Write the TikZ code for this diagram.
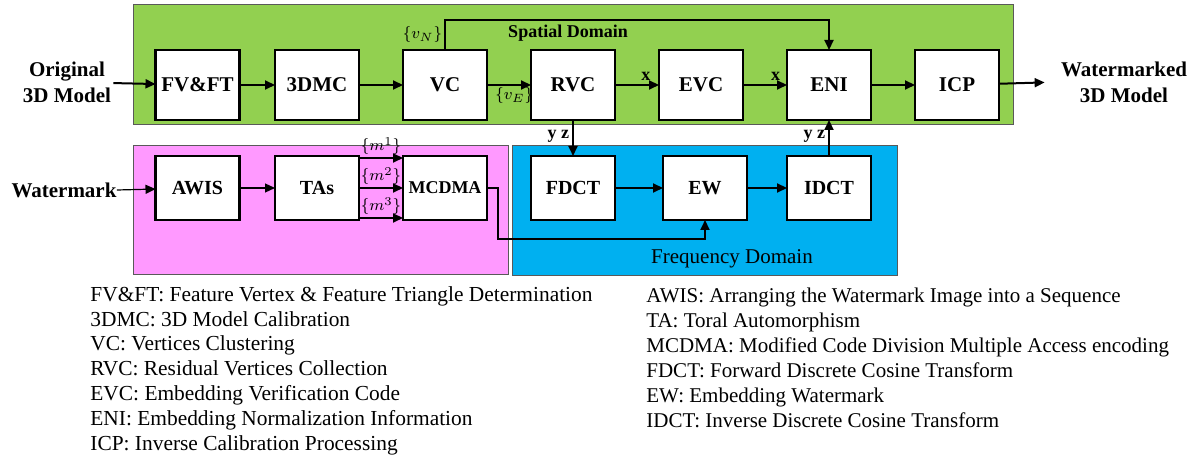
\documentclass[tikz,border=0pt]{standalone}
\usepackage{fontspec}
\setmainfont{Liberation Serif}
\usetikzlibrary{arrows.meta, calc, positioning}
\definecolor{spatialgreen}{HTML}{92D050}
\definecolor{wmpink}{HTML}{FF99FF}
\definecolor{freqblue}{HTML}{00B0F0}

\begin{document}
\begin{tikzpicture}[
        x=0.5pt, y=-0.5pt,
        node distance = 18pt and 22pt,
        >={Triangle[length=5pt,width=4.5pt]},
        base/.style = {draw, fill=white, line width=1.4pt, inner sep=0pt, outer sep=0pt,
                       font=\fontsize{10.5}{12}\selectfont\bfseries, align=center},
        block/.style = {base, minimum width=42pt, minimum height=35pt},
        lowblock/.style = {base, minimum width=42pt, minimum height=32pt,
                       font=\fontsize{10}{12}\selectfont\bfseries},
        zonebox/.style = {draw=black!65, line width=0.5pt},
        flow/.style = {->, line width=1pt},
        thinflow/.style = {->, line width=0.6pt},
        tag/.style = {font=\fontsize{8}{9}\selectfont, inner sep=1pt},
        boldtag/.style = {font=\fontsize{9}{10}\selectfont\bfseries, inner sep=1.5pt},
        io/.style = {font=\fontsize{10.5}{13}\selectfont\bfseries, align=center, inner sep=1pt},
        legend/.style = {anchor=north west, align=left, inner sep=0pt},
        ]
        \useasboundingbox (0,0) rectangle (1198,459);
        % domains
        \filldraw [zonebox, fill=spatialgreen] (133,5) rectangle (1013,125);
        \filldraw [zonebox, fill=wmpink] (133,146) rectangle (508,275);
        \filldraw [zonebox, fill=freqblue] (512,146) rectangle (897,276);
        \node [font=\fontsize{9}{10}\selectfont\bfseries] (sd) at (568,33) {Spatial Domain};
        \node [font=\fontsize{10.5}{12}\selectfont] (fd) at (732,259) {Frequency Domain};

        % spatial chain
        \node [block] (FVFT) at (197.5,85) {FV\&FT};
        \node [block, right=17.75pt of FVFT] (DMC) {3DMC};
        \node [block, right=of DMC] (VC) {VC};
        \node [block, right=of VC] (RVC) {RVC};
        \node [block, right=of RVC] (EVC) {EVC};
        \node [block, right=of EVC] (ENI) {ENI};
        \node [block, right=of ENI] (ICP) {ICP};
        \node [io] (orig) at (67,82) {Original\\3D Model};
        \node [io] (wmk) at (1124,82) {Watermarked\\3D Model};

        % watermark and frequency chain
        \node [lowblock, below=of FVFT] (AWIS) {AWIS};
        \node [lowblock, below=of DMC] (TAs) {TAs};
        \node [lowblock, below=of VC, font=\fontsize{9}{11}\selectfont\bfseries] (MCDMA) {MCDMA};
        \node [lowblock, below=of RVC] (FDCT) {FDCT};
        \node [lowblock, below=of EVC, xshift=2pt] (EW) {EW};
        \node [lowblock, below=of ENI] (IDCT) {IDCT};
        \node [io, inner sep=0pt] (wm) at (64,190) {Watermark};

        \coordinate (vnTop) at (444,20);
        \coordinate (ewIn) at ([yshift=-9.5pt]EW.south);

        \draw [flow] (orig) -- (FVFT);
        \draw [flow] (FVFT) -- (DMC);
        \draw [flow] (DMC) -- (VC);
        \draw [flow] (VC) -- node[pos=0.62, below, tag] {$\{v_E\}$} (RVC);
        \draw [flow] (RVC) -- node[pos=0.7, above, boldtag] {x} (EVC);
        \draw [flow] (EVC) -- node[pos=0.74, above, boldtag] {x} (ENI);
        \draw [flow] (ENI) -- (ICP);
        \draw [flow, shorten >=7pt] (ICP) -- (wmk.west);
        \draw [flow] (VC.north) -- node[left, tag] {$\{v_N\}$} (VC.north |- vnTop) -| (ENI.north);
        \draw [flow] (RVC) -- node[pos=0.45, left, boldtag] {y z} (FDCT);
        \draw [flow] (IDCT) -- node[pos=0.55, left, boldtag] {y z} (ENI);

        \draw [thinflow] (wm.east) -- (AWIS);
        \draw [thinflow] (AWIS) -- (TAs);
        \draw [flow] ([yshift=-1pt]TAs.north east) -- node[above, tag] {$\{m^1\}$} ([yshift=-1pt]MCDMA.north west);
        \draw [flow] (TAs) -- node[above, tag] {$\{m^2\}$} (MCDMA);
        \draw [flow] ([yshift=1pt]TAs.south east) -- node[above, tag] {$\{m^3\}$} ([yshift=1pt]MCDMA.south west);
        \draw [flow] (MCDMA.east) -- ++(11,0) |- (ewIn) -- (EW.south);
        \draw [flow] (FDCT) -- (EW);
        \draw [flow] (EW) -- (IDCT);

        % abbreviations
        \node [legend, font=\fontsize{10.7}{12.4}\selectfont] (keyL) at (90,286) {%
            FV\&FT: Feature Vertex \& Feature Triangle Determination\\
            3DMC: 3D Model Calibration\\
            VC: Vertices Clustering\\
            RVC: Residual Vertices Collection\\
            EVC: Embedding Verification Code\\
            ENI: Embedding Normalization Information\\
            ICP: Inverse Calibration Processing};
        \node [legend, font=\fontsize{10.5}{12.5}\selectfont] (keyR) at (646,288) {%
            AWIS: Arranging the Watermark Image into a Sequence\\
            TA: Toral Automorphism\\
            MCDMA: Modified Code Division Multiple Access encoding\\
            FDCT: Forward Discrete Cosine Transform\\
            EW: Embedding Watermark\\
            IDCT: Inverse Discrete Cosine Transform};
\end{tikzpicture}
\end{document}
